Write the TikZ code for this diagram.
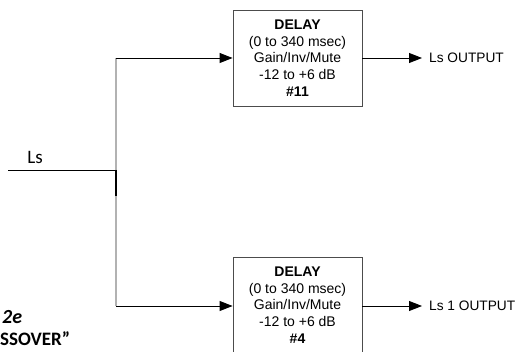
\documentclass[tikz,border=0pt]{standalone}
\usepackage{fontspec}
\setmainfont{Liberation Sans}
\newfontfamily\calib{Carlito}
\usetikzlibrary{arrows.meta}
\tikzset{
  bloc/.style={draw=black!70,line width=0.9pt,minimum width=129pt,minimum height=96pt,
    align=center,inner sep=0pt,font=\fontsize{14}{16.6}\selectfont},
  fleche/.style={-{Triangle[length=13pt,width=10pt]},line width=0.9pt},
  sortie/.style={anchor=west,inner xsep=7pt,inner ysep=0pt,font=\fontsize{13.7}{16}\selectfont}
}
\begin{document}
\begin{tikzpicture}[x=1pt,y=-1pt]
	\useasboundingbox (0,0) rectangle (519,352);
	\node[bloc] (d11) at (297.5,58) {\textbf{DELAY}\\(0 to 340 msec)\\Gain/Inv/Mute\\-12 to +6 dB\\\textbf{\#11}};
	\node[bloc] (d4) at (297.5,305) {\textbf{DELAY}\\(0 to 340 msec)\\Gain/Inv/Mute\\-12 to +6 dB\\\textbf{\#4}};
	\node[sortie] (s11) at (422,58) {Ls OUTPUT};
	\node[sortie] (s4) at (422,306) {Ls 1 OUTPUT};
	\coordinate (entree) at (8,170);
	\coordinate (j) at (116,170);
	\coordinate (j2) at (116,196);
	\coordinate (haut) at (116,58);
	\coordinate (bas) at (116,306);
	\node[font=\calib\fontsize{19}{20}\selectfont,inner sep=0pt] (ls) at (35,157) {Ls};
	\draw[gray!60,line width=1.3pt] (haut) -- (bas); % le bus vertical
	\draw[line width=1.3pt] (j) -- (j2);
	\draw[line width=0.9pt] (entree) -- (j); % l'entrée
	\draw[fleche] (haut) -- (d11.west);
	\draw[fleche] (bas) -- (d4.west |- bas);
	\draw[fleche] (d11.east) -- (s11.west);
	\draw[fleche] (d4.east |- s4) -- (s4.west);
	\node[anchor=west,inner sep=0pt,font=\calib\bfseries\itshape\fontsize{20}{22}\selectfont] (fig) at (2,317) {2e};
	\node[anchor=west,inner sep=0pt,font=\calib\bfseries\fontsize{19}{22}\selectfont] (titre) at (0,339) {SSOVER”};
\end{tikzpicture}
\end{document}
